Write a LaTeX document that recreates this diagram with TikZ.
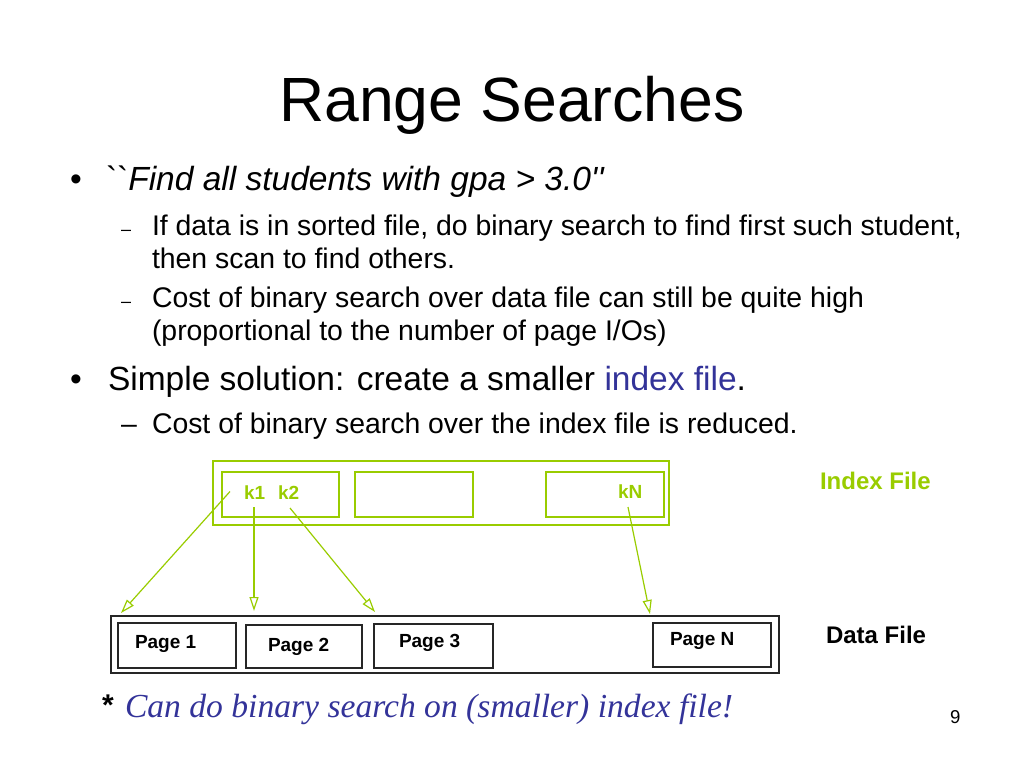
\documentclass[tikz,border=0pt]{standalone}
\usepackage{fontspec}
\setsansfont{Liberation Sans}[Ligatures=TeXOff]
\newfontfamily\notefont{Liberation Serif}
\usetikzlibrary{arrows.meta}
\definecolor{igreen}{RGB}{153,204,0}
\definecolor{iblue}{RGB}{51,51,153}
\begin{document}
\begin{tikzpicture}[x=1pt,y=-1pt,
  txt/.style={anchor=base west, inner sep=0pt, outer sep=0pt},
  titlefont/.style={font=\sffamily\fontsize{62.5}{75}\selectfont},
  bulfont/.style={font=\sffamily\fontsize{33.5}{40}\selectfont},
  subfont/.style={font=\sffamily\fontsize{28.4}{34}\selectfont},
  smalldash/.style={font=\sffamily\fontsize{18}{22}\selectfont},
  ibox/.style={draw=igreen, line width=1.6pt, inner sep=0pt, anchor=north west},
  pbox/.style={draw=black!85, line width=1.6pt, inner sep=0pt, anchor=north west},
  klabel/.style={txt, text=igreen, font=\sffamily\bfseries\fontsize{19}{22}\selectfont},
  plabel/.style={txt, font=\sffamily\bfseries\fontsize{19}{22}\selectfont},
  filelabel/.style={txt, font=\sffamily\bfseries\fontsize{24}{28}\selectfont},
  conn/.style={draw=igreen, line width=1.2pt, -{Triangle[open,length=14pt,width=9pt]}}
]
\useasboundingbox (0,0) rectangle (1024,768);

% title
\node[txt, titlefont, anchor=base] (title) at (512,121) {Range Searches};

% bullet 1
\node[txt, bulfont] (b1dot) at (70,190) {•};
\node[txt, bulfont] (b1) at (106,190) {``\textit{Find all students with gpa > 3.0''}};
\node[txt, smalldash] (s1dash) at (121,235) {–};
\node[txt, subfont] (s1a) at (152,235) {If data is in sorted file, do binary search to find first such student,};
\node[txt, subfont] (s1b) at (152,268) {then scan to find others.};
\node[txt, smalldash] (s2dash) at (121,307) {–};
\node[txt, subfont] (s2a) at (152,307) {Cost of binary search over data file can still be quite high};
\node[txt, subfont] (s2b) at (152,340) {(proportional to the number of page I/Os)};

% bullet 2
\node[txt, bulfont] (b2dot) at (70,390) {•};
\node[txt, bulfont] (b2) at (108,390) {Simple solution: create a smaller \textcolor{iblue}{index file}.};
\node[txt, subfont] (s3dash) at (121,433) {–};
\node[txt, subfont] (s3) at (152,433) {Cost of binary search over the index file is reduced.};

% index file
\node[ibox, minimum width=456, minimum height=64] (index) at (212,460) {};
\node[ibox, minimum width=117, minimum height=45] (ib1) at (221,471) {};
\node[ibox, minimum width=118, minimum height=45] (ib2) at (354,471) {};
\node[ibox, minimum width=118, minimum height=45] (ib3) at (545,471) {};
\node[klabel] (k1) at (244,499) {k1};
\node[klabel] (k2) at (278,499) {k2};
\node[klabel] (kN) at (618,498) {kN};
\node[filelabel, text=igreen] (indexlbl) at (820,489) {Index File};

% data file
\node[pbox, minimum width=668, minimum height=57] (data) at (110,615) {};
\node[pbox, minimum width=118, minimum height=45] (p1) at (117,622) {};
\node[pbox, minimum width=116, minimum height=43] (p2) at (245,624) {};
\node[pbox, minimum width=119, minimum height=44] (p3) at (373,623) {};
\node[pbox, minimum width=118, minimum height=44] (pN) at (652,622) {};
\node[plabel] (p1l) at (135,648) {Page 1};
\node[plabel] (p2l) at (268,651) {Page 2};
\node[plabel] (p3l) at (399,647) {Page 3};
\node[plabel] (pNl) at (670,645) {Page N};
\node[filelabel] (datalbl) at (826,643) {Data File};

% connectors
\coordinate (a1s) at (230,491.5);
\coordinate (a1e) at (121,613);
\coordinate (a2s) at (254,507);
\coordinate (a2e) at (254,611);
\coordinate (a3s) at (290,508);
\coordinate (a3e) at (375,612);
\coordinate (a4s) at (628,507);
\coordinate (a4e) at (650,614);
\draw[conn] (a1s) -- (a1e);
\draw[conn] (a2s) -- (a2e);
\draw[conn] (a3s) -- (a3e);
\draw[conn] (a4s) -- (a4e);

% footnote
\node[txt, font=\sffamily\bfseries\fontsize{30}{34}\selectfont] (star) at (102,715) {*};
\node[txt, text=iblue, font=\notefont\itshape\fontsize{33.6}{40}\selectfont] (note) at (125,717) {Can do binary search on (smaller) index file!};

% page number
\node[txt, font=\sffamily\fontsize{18.6}{22}\selectfont] (pgnum) at (950,723) {9};
\end{tikzpicture}
\end{document}
